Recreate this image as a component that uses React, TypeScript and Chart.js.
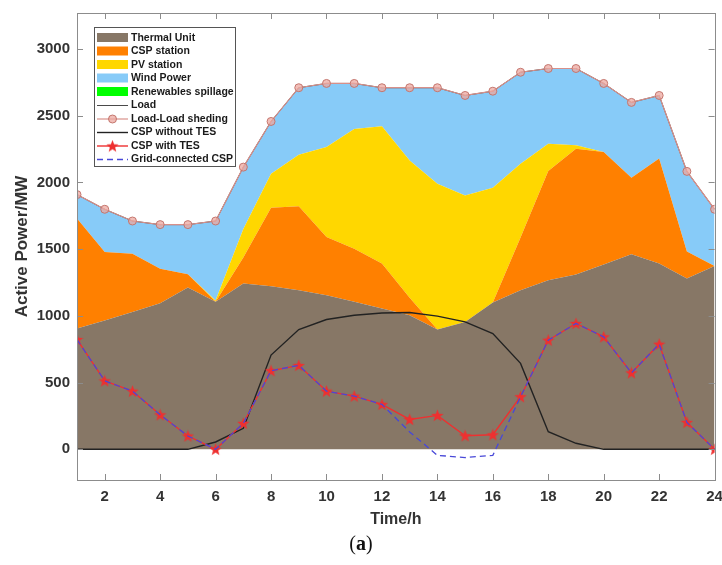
import React, { useEffect, useRef } from "react";
import { Chart, registerables } from "chart.js";

Chart.register(...registerables);

const hours = [1, 2, 3, 4, 5, 6, 7, 8, 9, 10, 11, 12, 13, 14, 15, 16, 17, 18, 19, 20, 21, 22, 23, 24];
const thermalUnit = [906, 965, 1030, 1095, 1212, 1105, 1242, 1222, 1192, 1155, 1105, 1055, 1005, 898, 955, 1100, 1193, 1267, 1310, 1385, 1462, 1392, 1280, 1374];
const cspStation = [823, 513, 436, 259, 100, 0, 195, 589, 629, 436, 399, 337, 130, 0, 0, 0, 394, 818, 943, 843, 573, 788, 202, 0];
const pvStation = [0, 0, 0, 0, 0, 10, 215, 255, 387, 674, 896, 1030, 1030, 1093, 948, 861, 554, 205, 25, 0, 0, 0, 0, 0];
const windPower = [180, 321, 245, 330, 372, 596, 463, 391, 502, 477, 342, 288, 545, 719, 749, 723, 685, 564, 576, 514, 565, 472, 601, 425];
const spillage = [0, 0, 0, 0, 0, 0, 0, 0, 0, 0, 0, 0, 0, 0, 0, 0, 0, 0, 0, 0, 0, 0, 0, 0];
const load = [1909, 1799, 1711, 1684, 1684, 1711, 2115, 2457, 2710, 2742, 2742, 2710, 2710, 2710, 2652, 2684, 2826, 2854, 2854, 2742, 2600, 2652, 2083, 1799];
const loadShedding = [1909, 1799, 1711, 1684, 1684, 1711, 2115, 2457, 2710, 2742, 2742, 2710, 2710, 2710, 2652, 2684, 2826, 2854, 2854, 2742, 2600, 2652, 2083, 1799];
const cspWithoutTes = [0, 0, 0, 0, 0, 55, 157, 706, 898, 973, 1005, 1022, 1025, 998, 955, 868, 644, 132, 45, 0, 0, 0, 0, 0];
const cspWithTes = [823, 513, 436, 259, 100, 0, 195, 589, 629, 436, 399, 337, 224, 254, 102, 109, 394, 818, 943, 843, 573, 788, 202, 0];
const gridConnectedCsp = [823, 513, 436, 259, 100, 0, 195, 589, 629, 436, 399, 337, 130, -45, -62, -45, 394, 818, 943, 843, 573, 788, 202, 0];

const xTicks = [2, 4, 6, 8, 10, 12, 14, 16, 18, 20, 22, 24];
const yTicks = [0, 500, 1000, 1500, 2000, 2500, 3000];

const legendLabels = [
  "Thermal Unit",
  "CSP station",
  "PV station",
  "Wind Power",
  "Renewables spillage",
  "Load",
  "Load-Load sheding",
  "CSP without TES",
  "CSP with TES",
  "Grid-connected CSP",
];

const COLORS = {
  thermal: "#877766",
  csp: "#FF8000",
  pv: "#FFD700",
  wind: "#87CBF8",
  spill: "#00FF00",
  load: "#4a4a4a",
  shed: "#D8908A",
  noTes: "#222222",
  tes: "#EE3030",
  grid: "#4848D8",
};

function makeStar(size: number, color: string) {
  const c = document.createElement("canvas");
  c.width = size;
  c.height = size;
  const ctx = c.getContext("2d")!;
  const cx = size / 2;
  const cy = size / 2 + 0.5;
  const R = size / 2;
  const r = R * 0.42;
  ctx.beginPath();
  for (let i = 0; i < 10; i++) {
    const ang = -Math.PI / 2 + (i * Math.PI) / 5;
    const rad = i % 2 === 0 ? R : r;
    const px = cx + rad * Math.cos(ang);
    const py = cy + rad * Math.sin(ang);
    if (i === 0) ctx.moveTo(px, py);
    else ctx.lineTo(px, py);
  }
  ctx.closePath();
  ctx.fillStyle = color;
  ctx.fill();
  return c;
}

const pts = (arr: number[]) => arr.map((v, i) => ({ x: hours[i], y: v }));

export default function App() {
  const ref = useRef<HTMLCanvasElement | null>(null);

  useEffect(() => {
    if (!ref.current) return;
    const star = makeStar(13, COLORS.tes);
    const FONT = "'Liberation Sans', Arial, Helvetica, sans-serif";

    const boxPlugin = {
      id: "matlabBox",
      afterDraw(chart: any) {
        const { ctx, chartArea: a, scales } = chart;
        const xs = scales.x;
        const ys = scales.y;
        ctx.save();
        ctx.strokeStyle = "#8c8c8c";
        ctx.lineWidth = 1;
        ctx.strokeRect(Math.round(a.left) + 0.5, Math.round(a.top) + 0.5, Math.round(a.right - a.left), Math.round(a.bottom - a.top));
        ctx.beginPath();
        xTicks.forEach((v) => {
          const px = Math.round(xs.getPixelForValue(v)) + 0.5;
          ctx.moveTo(px, a.bottom);
          ctx.lineTo(px, a.bottom - 6);
          ctx.moveTo(px, a.top);
          ctx.lineTo(px, a.top + 6);
        });
        yTicks.forEach((v) => {
          const py = Math.round(ys.getPixelForValue(v)) + 0.5;
          ctx.moveTo(a.left, py);
          ctx.lineTo(a.left + 6, py);
          ctx.moveTo(a.right, py);
          ctx.lineTo(a.right - 6, py);
        });
        ctx.stroke();

        // legend
        const lx = 94.5, ly = 27.5, lw = 141, lh = 139;
        ctx.fillStyle = "#ffffff";
        ctx.fillRect(lx, ly, lw, lh);
        ctx.strokeStyle = "#555555";
        ctx.strokeRect(lx, ly, lw, lh);
        ctx.font = `bold 10.5px ${FONT}`;
        ctx.textBaseline = "middle";
        ctx.textAlign = "left";
        const sx0 = 97, sx1 = 128;
        chart.data.datasets.forEach((ds: any, i: number) => {
          const y = 37.5 + i * 13.5;
          if (i < 5) {
            ctx.fillStyle = ds.backgroundColor;
            ctx.fillRect(sx0, y - 4.5, sx1 - sx0, 9);
          } else {
            ctx.save();
            ctx.beginPath();
            ctx.strokeStyle = ds.borderColor;
            ctx.lineWidth = ds.borderWidth;
            ctx.setLineDash(ds.borderDash || []);
            ctx.moveTo(sx0, y + 0.5);
            ctx.lineTo(sx1, y + 0.5);
            ctx.stroke();
            ctx.restore();
            const mx = (sx0 + sx1) / 2;
            if (ds.pointStyle === "circle" && ds.pointRadius > 0) {
              ctx.beginPath();
              ctx.arc(mx, y + 0.5, ds.pointRadius, 0, Math.PI * 2);
              ctx.fillStyle = ds.pointBackgroundColor;
              ctx.fill();
              ctx.strokeStyle = ds.pointBorderColor;
              ctx.lineWidth = 1;
              ctx.stroke();
            } else if (ds.pointStyle && typeof ds.pointStyle !== "string") {
              ctx.drawImage(ds.pointStyle, mx - ds.pointStyle.width / 2, y + 0.5 - ds.pointStyle.height / 2);
            }
          }
          ctx.fillStyle = "#1a1a1a";
          ctx.fillText(legendLabels[i], 131, y + 0.5);
        });

        // sub-caption (a)
        ctx.fillStyle = "#111111";
        ctx.textBaseline = "middle";
        const serif = "'Liberation Serif', 'DejaVu Serif', serif";
        ctx.font = `20px ${serif}`;
        const w1 = ctx.measureText("(").width;
        const w3 = ctx.measureText(")").width;
        ctx.font = `bold 20px ${serif}`;
        const w2 = ctx.measureText("a").width;
        const total = w1 + w2 + w3;
        let cx = 361 - total / 2;
        const cy = 545;
        ctx.font = `20px ${serif}`;
        ctx.fillText("(", cx, cy);
        cx += w1;
        ctx.font = `bold 20px ${serif}`;
        ctx.fillText("a", cx, cy);
        cx += w2;
        ctx.font = `20px ${serif}`;
        ctx.fillText(")", cx, cy);
        ctx.restore();
      },
    };

    const areaBase = {
      type: "line",
      stack: "area",
      borderWidth: 0,
      pointRadius: 0,
      tension: 0,
      order: 10,
    };

    const chart = new Chart(ref.current, {
      type: "line",
      data: {
        datasets: [
          { ...areaBase, label: "Thermal Unit", data: pts(thermalUnit), backgroundColor: COLORS.thermal, borderColor: COLORS.thermal, fill: "origin" },
          { ...areaBase, label: "CSP station", data: pts(cspStation), backgroundColor: COLORS.csp, borderColor: COLORS.csp, fill: "-1" },
          { ...areaBase, label: "PV station", data: pts(pvStation), backgroundColor: COLORS.pv, borderColor: COLORS.pv, fill: "-1" },
          { ...areaBase, label: "Wind Power", data: pts(windPower), backgroundColor: COLORS.wind, borderColor: COLORS.wind, fill: "-1" },
          { ...areaBase, label: "Renewables spillage", data: pts(spillage), backgroundColor: COLORS.spill, borderColor: COLORS.spill, fill: "-1" },
          {
            label: "Load", data: pts(load), stack: "s1", borderColor: COLORS.load, borderWidth: 1,
            pointRadius: 0, pointStyle: "line", fill: false, order: 5,
          },
          {
            label: "Load-Load sheding", data: pts(loadShedding), stack: "s2", borderColor: COLORS.shed, borderWidth: 1.2,
            pointStyle: "circle", pointRadius: 4, pointBackgroundColor: "rgba(236,168,160,0.75)",
            pointBorderColor: "#C4766E", pointBorderWidth: 1, fill: false, order: 4,
          },
          {
            label: "CSP without TES", data: pts(cspWithoutTes), stack: "s3", borderColor: COLORS.noTes, borderWidth: 1.4,
            pointRadius: 0, pointStyle: "line", fill: false, order: 3,
          },
          {
            label: "CSP with TES", data: pts(cspWithTes), stack: "s4", borderColor: COLORS.tes, borderWidth: 1.4,
            pointStyle: star, pointRadius: 6, fill: false, order: 2,
          },
          {
            label: "Grid-connected CSP", data: pts(gridConnectedCsp), stack: "s5", borderColor: COLORS.grid, borderWidth: 1.3,
            borderDash: [6, 4], pointRadius: 0, pointStyle: "line", fill: false, order: 1,
          },
        ] as any,
      },
      options: {
        animation: false,
        responsive: false,
        events: [],
        layout: { padding: { top: 13, right: 7, left: 0, bottom: 0 } },
        plugins: {
          legend: { display: false },
          tooltip: { enabled: false },
          filler: { propagate: false },
        },
        scales: {
          x: {
            type: "linear",
            min: 1,
            max: 24,
            grid: { display: false, drawTicks: false },
            border: { display: false },
            afterBuildTicks: (s: any) => {
              s.ticks = xTicks.map((v) => ({ value: v }));
            },
            afterFit: (s: any) => {
              s.height = 85;
              s.paddingLeft = 0;
              s.paddingRight = 0;
            },
            ticks: {
              padding: 8,
              maxRotation: 0,
              autoSkip: false,
              color: "#333333",
              font: { family: FONT, size: 15, weight: "bold" },
              callback: (v: any) => String(v),
            },
            title: {
              display: true,
              text: "Time/h",
              color: "#333333",
              font: { family: FONT, size: 16, weight: "bold" },
              padding: { top: 0, bottom: 36 },
            },
          },
          y: {
            type: "linear",
            stacked: true,
            min: -230,
            max: 3270,
            grid: { display: false, drawTicks: false },
            border: { display: false },
            afterBuildTicks: (s: any) => {
              s.ticks = yTicks.map((v) => ({ value: v }));
            },
            afterFit: (s: any) => {
              s.width = 77;
              s.paddingTop = 0;
              s.paddingBottom = 0;
            },
            ticks: {
              padding: 7,
              color: "#333333",
              font: { family: FONT, size: 15, weight: "bold" },
              callback: (v: any) => String(v),
            },
            title: {
              display: true,
              text: "Active Power/MW",
              color: "#333333",
              font: { family: FONT, size: 17, weight: "bold" },
              padding: { top: 12, bottom: 0 },
            },
          },
        },
      } as any,
      plugins: [boxPlugin],
    });

    return () => chart.destroy();
  }, []);

  return (
    <div style={{ position: "absolute", left: 0, top: 0, width: 722, height: 565, background: "#fff" }}>
      <canvas ref={ref} width={722} height={565} style={{ display: "block" }} />
    </div>
  );
}
